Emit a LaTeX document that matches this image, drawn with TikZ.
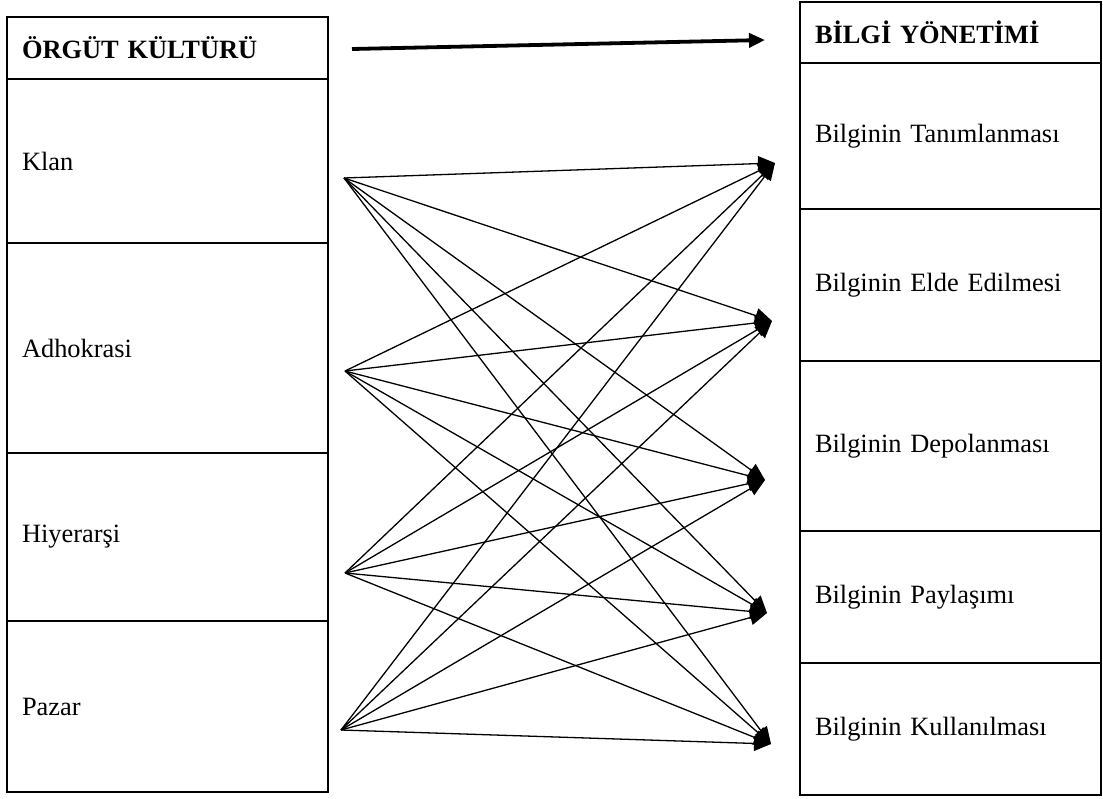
\documentclass[tikz,border=0pt]{standalone}
\usepackage{fontspec}
\setmainfont{Liberation Serif}
\usetikzlibrary{positioning,arrows.meta}

\tikzset{
  cell/.style={draw, line width=1pt, outer sep=0pt, inner xsep=7.5pt, inner ysep=0pt,
    align=left, font=\fontsize{13.2}{16}\selectfont},
  lcell/.style={cell, text width=145.5pt},
  rcell/.style={cell, text width=135.5pt},
  link/.style={line width=0.65pt, -{Triangle[length=8.5pt,width=7.5pt]}},
  mainlink/.style={line width=1.9pt, -{Triangle[length=8pt,width=7pt]}}
}

\begin{document}
\begin{tikzpicture}[x=0.5pt,y=-0.5pt]
  \useasboundingbox (0,0) rectangle (1103,798);

  % Left column
  \node[lcell, minimum height=31pt, anchor=north] (orgut) at (167.5,17) {\bfseries ÖRGÜT KÜLTÜRÜ};
  \node[lcell, minimum height=82pt, below=0pt of orgut] (klan) {Klan};
  \node[lcell, minimum height=105pt, below=0pt of klan] (adhokrasi) {Adhokrasi};
  \node[lcell, minimum height=84pt, below=0pt of adhokrasi] (hiyerarsi) {Hiyerarşi};
  \node[lcell, minimum height=85.5pt, below=0pt of hiyerarsi] (pazar) {Pazar};

  % Right column
  \node[rcell, minimum height=30.5pt, anchor=north] (bilgi) at (950.5,2) {\bfseries BİLGİ YÖNETİMİ};
  \node[rcell, minimum height=73pt, below=0pt of bilgi] (tanim) {Bilginin Tanımlanması};
  \node[rcell, minimum height=76pt, below=0pt of tanim] (elde) {Bilginin Elde Edilmesi};
  \node[rcell, minimum height=85pt, below=0pt of elde] (depo) {Bilginin Depolanması};
  \node[rcell, minimum height=66pt, below=0pt of depo] (paylasim) {Bilginin Paylaşımı};
  \node[rcell, minimum height=66pt, below=0pt of paylasim] (kullanim) {Bilginin Kullanılması};

  % Main arrow between the headers
  \draw[mainlink] ([xshift=12pt,yshift=-0.5pt]orgut.east) -- ([xshift=-17.5pt,yshift=-3.75pt]bilgi.west);

  % Start and end points of the links
  \coordinate (klanout) at (344,178);
  \coordinate (adhout) at (345,371);
  \coordinate (hiyout) at (345,573);
  \coordinate (pazout) at (341,730);
  \coordinate (tanin) at (775,163);
  \coordinate (eldein) at (772,321);
  \coordinate (depoin) at (765,480);
  \coordinate (paylin) at (767,613);
  \coordinate (kullin) at (771,744);

  % Every culture type to every knowledge process
  \foreach \src in {klanout,adhout,hiyout,pazout}
    \foreach \dst in {tanin,eldein,depoin,paylin,kullin}
      \draw[link] (\src) -- (\dst);
\end{tikzpicture}
\end{document}
